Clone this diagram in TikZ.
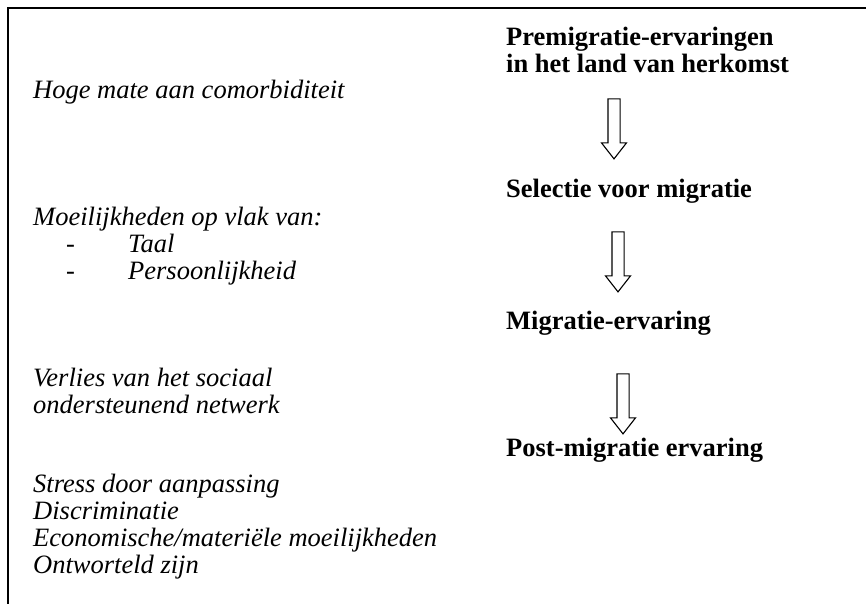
\documentclass[tikz,border=0pt]{standalone}
\usepackage{fontspec}
\setmainfont{Liberation Serif}
\usetikzlibrary{shapes.arrows}
\tikzset{
    factor/.style={anchor=base west,inner sep=0pt,font=\fontsize{26.5}{27}\selectfont\itshape},
    phase/.style={anchor=base west,inner sep=0pt,font=\fontsize{26.5}{27}\selectfont\bfseries},
    stap/.style={single arrow,draw,line width=1.1pt,shape border rotate=270,
        inner sep=5.5pt,single arrow head extend=6.5pt,single arrow tip angle=76,
        minimum height=60pt}
}
\newcommand{\streep}[1]{\makebox[62pt][l]{\upshape-}#1}
\begin{document}
\begin{tikzpicture}[x=1pt,y=-1pt]
        \useasboundingbox (0,0) rectangle (866,604);
        \draw [line width=2pt] (866,8) -- (8,8) -- (8,604);
        % fasen van de migratie
        \node [phase] (pre1) at (506,46) {Premigratie-ervaringen};
        \node [phase] (pre2) at (506,73) {in het land van herkomst};
        \node [phase] (sel) at (506,197) {Selectie voor migratie};
        \node [phase] (mig) at (506,329) {Migratie-ervaring};
        \node [phase] (post) at (506,456) {Post-migratie ervaring};
        \node [stap] (p1) at (614,125) {};
        \node [stap] (p2) at (618,258) {};
        \node [stap] (p3) at (623,400) {};
        % factoren
        \node [factor] (f1) at (33,99) {Hoge mate aan comorbiditeit};
        \node [factor] (f2) at (33,225) {Moeilijkheden op vlak van:};
        \node [factor] (f2a) at (66,252) {\streep{Taal}};
        \node [factor] (f2b) at (66,279) {\streep{Persoonlijkheid}};
        \node [factor] (f3) at (33,386) {Verlies van het sociaal};
        \node [factor] (f3a) at (33,413) {ondersteunend netwerk};
        \node [factor] (f4) at (33,492) {Stress door aanpassing};
        \node [factor] (f4a) at (33,519) {Discriminatie};
        \node [factor] (f4b) at (33,546) {Economische/materiële moeilijkheden};
        \node [factor] (f4c) at (33,573) {Ontworteld zijn};
\end{tikzpicture}
\end{document}
